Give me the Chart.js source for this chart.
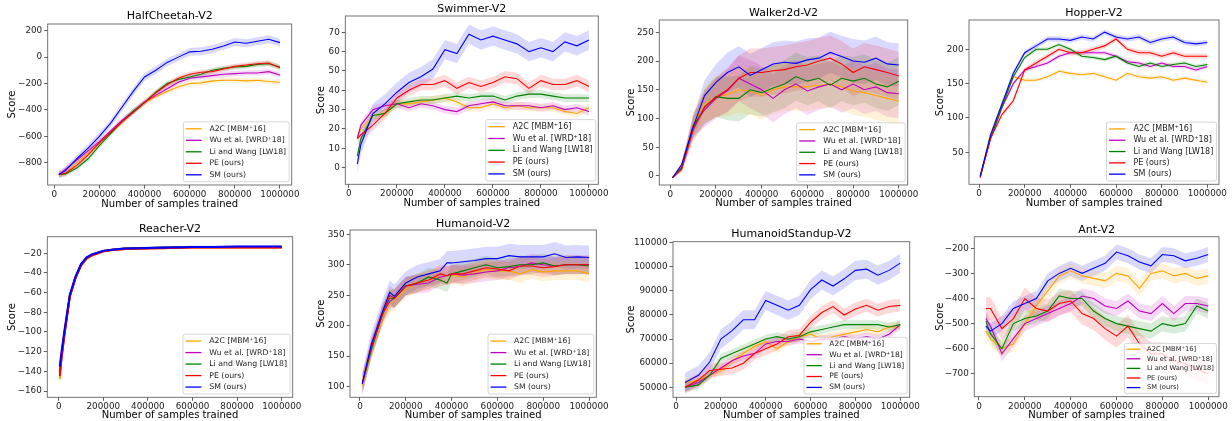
<!DOCTYPE html>
<html>
<head>
<meta charset="utf-8">
<script src="https://cdn.jsdelivr.net/npm/chart.js@4.4.0/dist/chart.umd.min.js"></script>
<style>
  body { margin: 0; background: #fff; width: 1232px; height: 421px; position: relative; overflow: hidden; }
  .panel { position: absolute; }
</style>
</head>
<body>
<script>
// ---- data ----
const names = ["A2C [MBM\u207A16]", "Wu et al. [WRD\u207A18]", "Li and Wang [LW18]", "PE (ours)", "SM (ours)"];
const xTicks = [0, 200000, 400000, 600000, 800000, 1000000];

// HalfCheetah-V2
const cheetahX = [20000, 50000, 100000, 150000, 200000, 250000, 300000, 350000, 400000, 450000, 500000, 550000, 600000, 650000, 700000, 750000, 800000, 850000, 900000, 950000, 1000000];
const cheetahA2C = [-890, -880, -800, -730, -650, -570, -490, -410, -345, -300, -260, -225, -200, -195, -180, -175, -175, -180, -175, -185, -190];
const cheetahWu = [-890, -850, -780, -710, -640, -560, -480, -410, -340, -290, -240, -190, -160, -150, -140, -130, -125, -120, -120, -110, -135];
const cheetahLi = [-890, -885, -840, -770, -670, -580, -490, -410, -345, -265, -200, -170, -150, -130, -100, -85, -75, -70, -55, -50, -75];
const cheetahPE = [-890, -880, -820, -740, -650, -570, -490, -420, -345, -270, -210, -160, -130, -115, -110, -90, -70, -60, -50, -45, -80];
const cheetahSM = [-890, -860, -770, -690, -600, -500, -380, -260, -150, -100, -40, 0, 40, 45, 60, 85, 115, 105, 120, 135, 110];
const cheetahYTicks = [-800, -600, -400, -200, 0, 200];

// Swimmer-V2
const swimX = [35000, 50000, 100000, 150000, 200000, 250000, 300000, 350000, 400000, 450000, 500000, 550000, 600000, 650000, 700000, 750000, 800000, 850000, 900000, 950000, 1000000];
const swimA2C = [16, 20, 27, 28, 33, 33, 34, 35, 36, 34, 31, 31, 33, 31, 32, 31, 31, 31, 29, 28, 31];
const swimWu = [15, 22, 30, 32, 33, 31, 33, 32, 30, 29, 32, 33, 34, 32, 32, 32, 31, 32, 30, 31, 29];
const swimLi = [6, 15, 27, 28, 33, 34, 35, 35, 36, 37, 36, 37, 37, 35, 37, 38, 38, 37, 36, 36, 36];
const swimPE = [15, 17, 22, 28, 36, 40, 43, 43, 45, 41, 44, 42, 44, 47, 46, 41, 45, 43, 43, 45, 42];
const swimSM = [2, 12, 28, 33, 39, 44, 47, 51, 61, 59, 69, 66, 68, 66, 64, 60, 62, 60, 65, 63, 66];
const swimYTicks = [0, 10, 20, 30, 40, 50, 60, 70];

// Walker2d-V2
const walkX = [10000, 50000, 100000, 150000, 200000, 250000, 300000, 350000, 400000, 450000, 500000, 550000, 600000, 650000, 700000, 750000, 800000, 850000, 900000, 950000, 1000000];
const walkA2C = [-3, 17, 90, 125, 138, 142, 150, 148, 140, 150, 155, 155, 155, 158, 160, 155, 148, 145, 140, 135, 130];
const walkWu = [-3, 15, 88, 115, 135, 148, 170, 160, 150, 135, 150, 160, 148, 155, 160, 150, 160, 150, 155, 145, 143];
const walkLi = [-3, 14, 85, 120, 138, 135, 135, 150, 145, 153, 160, 173, 165, 170, 158, 170, 165, 170, 160, 155, 165];
const walkPE = [-3, 12, 80, 120, 137, 150, 170, 180, 180, 183, 185, 190, 193, 200, 205, 195, 180, 190, 185, 180, 174];
const walkSM = [-3, 20, 85, 140, 163, 180, 190, 175, 185, 195, 198, 196, 202, 205, 215, 208, 200, 198, 205, 195, 193];
const walkSpread = [1, 6, 20, 30, 35, 38, 40, 42, 42, 42, 42, 42, 42, 40, 40, 40, 42, 42, 42, 42, 42];
const walkYTicks = [0, 50, 100, 150, 200, 250];

// Hopper-V2
const hopX = [5000, 50000, 100000, 150000, 200000, 250000, 300000, 350000, 400000, 450000, 500000, 550000, 600000, 650000, 700000, 750000, 800000, 850000, 900000, 950000, 1000000];
const hopA2C = [15, 75, 120, 160, 155, 155, 160, 168, 165, 163, 165, 160, 155, 165, 160, 158, 160, 155, 158, 155, 152];
const hopWu = [15, 70, 115, 150, 170, 175, 180, 190, 195, 195, 195, 195, 190, 182, 180, 175, 180, 175, 175, 170, 175];
const hopLi = [15, 70, 115, 160, 188, 200, 200, 207, 200, 190, 188, 185, 190, 180, 175, 180, 175, 178, 180, 175, 178];
const hopPE = [13, 70, 105, 125, 170, 180, 190, 200, 195, 195, 200, 205, 215, 200, 195, 195, 190, 195, 190, 190, 190];
const hopSM = [15, 75, 120, 165, 195, 205, 215, 215, 213, 218, 215, 225, 218, 215, 218, 210, 215, 218, 210, 208, 210];
const hopYTicks = [50, 100, 150, 200];

// Reacher-V2
const reachX = [5000, 10000, 25000, 50000, 75000, 100000, 125000, 150000, 200000, 250000, 300000, 400000, 500000, 600000, 700000, 800000, 900000, 1000000];
const reachA2C = [-148, -133, -105, -64, -46, -33, -26, -22, -18, -16.5, -15.5, -15, -14.5, -14, -14, -14, -14, -14];
const reachWu = [-140, -128, -102, -63, -45, -32, -25, -21, -17.5, -16, -15, -14.5, -14, -13.5, -13.5, -13.5, -13.5, -13.5];
const reachLi = [-142, -130, -103, -63, -45, -32, -25, -21.5, -17.5, -16, -15, -14.5, -14, -13.5, -13.5, -13.5, -13.5, -13.5];
const reachPE = [-145, -132, -104, -64, -45, -32, -25, -22, -18, -16.5, -15.5, -15, -14.5, -14, -14, -14, -14, -14];
const reachSM = [-135, -125, -100, -62, -44, -31, -24, -21, -17.5, -16, -15, -14.5, -14, -13.5, -13.5, -13, -13, -13];
const reachYTicks = [-160, -140, -120, -100, -80, -60, -40, -20];

// Humanoid-V2
const humX = [10000, 50000, 100000, 130000, 150000, 200000, 250000, 300000, 350000, 380000, 400000, 450000, 500000, 550000, 600000, 650000, 700000, 750000, 800000, 850000, 900000, 950000, 1000000];
const humA2C = [102, 160, 215, 235, 240, 260, 270, 275, 280, 282, 283, 280, 287, 292, 290, 290, 285, 292, 288, 290, 290, 290, 285];
const humWu = [105, 165, 220, 240, 245, 265, 268, 270, 280, 282, 285, 283, 285, 288, 290, 295, 297, 303, 300, 298, 300, 300, 300];
const humLi = [105, 160, 222, 245, 245, 265, 270, 280, 275, 270, 285, 290, 295, 300, 295, 297, 300, 300, 303, 298, 300, 300, 298];
const humPE = [105, 165, 220, 250, 245, 265, 270, 275, 285, 282, 285, 285, 290, 295, 293, 290, 298, 298, 295, 297, 300, 300, 300];
const humSM = [105, 170, 225, 255, 248, 270, 280, 285, 290, 303, 303, 305, 307, 310, 310, 315, 313, 313, 313, 318, 312, 313, 312];
const humYTicks = [100, 150, 200, 250, 300, 350];

// HumanoidStandup-V2
const standX = [40000, 100000, 150000, 200000, 250000, 300000, 350000, 400000, 450000, 500000, 550000, 600000, 650000, 700000, 750000, 800000, 850000, 900000, 950000, 1000000];
const standA2C = [52000, 53000, 55000, 57000, 61000, 64000, 67000, 69000, 66000, 69000, 71000, 72000, 70000, 71000, 72000, 73000, 74000, 73000, 75000, 75000];
const standWu = [50000, 52000, 55000, 58000, 61000, 63000, 64000, 68000, 69000, 69000, 70000, 69000, 70000, 70000, 71000, 70000, 71000, 70000, 72000, 76000];
const standLi = [50000, 51000, 55000, 62000, 64000, 66000, 68000, 70000, 71000, 70000, 71000, 73000, 74000, 75000, 76000, 76000, 76000, 76000, 75000, 76000];
const standPE = [50000, 53000, 57000, 57500, 58000, 60000, 64000, 66000, 68000, 71000, 71500, 77000, 81000, 83500, 80000, 82500, 84000, 82000, 83500, 84000];
const standSM = [52000, 55000, 60500, 70000, 73500, 78000, 78000, 86000, 84000, 82000, 84000, 90500, 94500, 92000, 95000, 98500, 99000, 96500, 98500, 101500];
const standYTicks = [50000, 60000, 70000, 80000, 90000, 100000, 110000];

// Ant-V2
const antX = [30000, 50000, 100000, 150000, 200000, 250000, 300000, 350000, 400000, 450000, 500000, 550000, 600000, 650000, 700000, 750000, 800000, 850000, 900000, 950000, 1000000];
const antA2C = [-530, -560, -600, -580, -500, -430, -370, -310, -290, -310, -320, -330, -300, -310, -360, -300, -290, -310, -300, -320, -310];
const antWu = [-480, -510, -620, -560, -500, -480, -460, -440, -420, -390, -400, -430, -440, -410, -450, -460, -420, -460, -420, -420, -430];
const antLi = [-490, -540, -600, -500, -480, -470, -450, -390, -400, -400, -450, -480, -500, -510, -520, -530, -500, -510, -500, -430, -450];
const antPE = [-440, -440, -520, -480, -400, -440, -450, -420, -410, -460, -480, -520, -550, -510, -580, -620, -620, -650, -660, -680, -700];
const antSM = [-510, -530, -500, -440, -420, -400, -330, -300, -280, -300, -280, -260, -215, -230, -255, -270, -225, -230, -250, -240, -225];
const antYTicks = [-700, -600, -500, -400, -300, -200];

// ---- styling / layout ----
const colors = ["#ffa500", "#bf00bf", "#008000", "#ff0000", "#0000ff"];
Chart.defaults.font.family = '"DejaVu Sans", sans-serif';
Chart.defaults.color = "#222";

const panels = [
  { title: "HalfCheetah-V2", frame: [47.7, 24, 291.7, 185], titleY: 16, scoreX: 12.5, xLabelY: 204,
    xr: [-29000, 1052000], yr: [-969, 251], yTicks: cheetahYTicks, x: cheetahX,
    series: [cheetahA2C, cheetahWu, cheetahLi, cheetahPE, cheetahSM], spread: 20, bandScale: [1, 1, 1, 1, 1.5], leg: [7.7, 11.5] },
  { title: "Swimmer-V2", frame: [345.3, 16, 598.3, 184.3], titleY: 9.3, scoreX: 321.7, xLabelY: 203.3,
    xr: [-15000, 1039000], yr: [-8.6, 78.4], yTicks: swimYTicks, x: swimX,
    series: [swimA2C, swimWu, swimLi, swimPE, swimSM], spread: 2, bandScale: [1, 1, 1, 1.5, 2.5], leg: [8, 11.8] },
  { title: "Walker2d-V2", frame: [659.3, 20, 907.7, 185], titleY: 12.7, scoreX: 631, xLabelY: 203.3,
    xr: [-48000, 1039000], yr: [-15.7, 271.4], yTicks: walkYTicks, x: walkX,
    series: [walkA2C, walkWu, walkLi, walkPE, walkSM], spread: walkSpread, bandScale: [1, 1, 1, 1, 0.9], leg: [7.9, 11.3] },
  { title: "Hopper-V2", frame: [969, 20, 1219, 184.3], titleY: 12.7, scoreX: 940, xLabelY: 203.3,
    xr: [-44000, 1051000], yr: [3.4, 242.7], yTicks: hopYTicks, x: hopX,
    series: [hopA2C, hopWu, hopLi, hopPE, hopSM], spread: 3, bandScale: [1, 1, 1, 1.3, 1.3], leg: [8, 11.3] },
  { title: "Reacher-V2", frame: [47.3, 236.7, 292.7, 397.3], titleY: 229, scoreX: 12.3, xLabelY: 415.7,
    xr: [-51000, 1049000], yr: [-166.4, -3.1], yTicks: reachYTicks, x: reachX, lw: 2,
    series: [reachA2C, reachWu, reachLi, reachPE, reachSM], spread: 1.2, bandScale: [1, 1, 1, 1, 1], leg: [7.8, 11.5] },
  { title: "Humanoid-V2", frame: [350, 230, 597.3, 397.3], titleY: 224.3, scoreX: 321.7, xLabelY: 415,
    xr: [-43500, 1032000], yr: [82.6, 357], yTicks: humYTicks, x: humX,
    series: [humA2C, humWu, humLi, humPE, humSM], spread: 15, bandScale: [1, 1, 1, 1, 1.3], leg: [7.7, 11.5] },
  { title: "HumanoidStandup-V2", frame: [673, 241.7, 909.7, 397.3], titleY: 234.3, scoreX: 631, xLabelY: 415.7,
    xr: [-13400, 1042000], yr: [45850, 110400], yTicks: standYTicks, x: standX,
    series: [standA2C, standWu, standLi, standPE, standSM], spread: 1800, bandScale: [1, 1, 1, 1.5, 2.2], leg: [7.5, 10.9] },
  { title: "Ant-V2", frame: [974.3, 236.7, 1219, 396.7], titleY: 230, scoreX: 940, xLabelY: 415.7,
    xr: [-20500, 1047000], yr: [-791, -154], yTicks: antYTicks, x: antX,
    series: [antA2C, antWu, antLi, antPE, antSM], spread: 30, bandScale: [1, 1, 1, 1.5, 1], leg: [6.7, 9.6] }
];

function fmt(v) { return v < 0 ? "\u2212" + Math.abs(v) : String(v); }
function fade(hex, a) {
  const n = parseInt(hex.slice(1), 16);
  return `rgba(${n >> 16},${(n >> 8) & 255},${n & 255},${a})`;
}

// frame around the axes and a legend box inside the lower right corner
const boxPlugin = {
  id: "box",
  afterDraw(chart, args, opts) {
    const ctx = chart.ctx, a = chart.chartArea;
    ctx.save();
    ctx.strokeStyle = "#666";
    ctx.lineWidth = 0.9;
    ctx.strokeRect(a.left, a.top, a.right - a.left, a.bottom - a.top);

    const s = opts.size, row = opts.row;
    const items = chart.data.datasets.filter(d => d.main);
    ctx.font = s + 'px "DejaVu Sans"';
    const tw = Math.max(...items.map(d => ctx.measureText(d.label).width));
    const w = 0.32 * s + 2.05 * s + 1.0 * s + tw + 0.4 * s;
    const h = items.length * row + 0.3 * s;
    const x0 = a.right - 2.5 - w, y0 = a.bottom - 3.3 - h;
    ctx.fillStyle = "rgba(255,255,255,0.8)";
    ctx.strokeStyle = "#ccc";
    ctx.lineWidth = 0.8;
    ctx.beginPath();
    ctx.roundRect(x0, y0, w, h, 2);
    ctx.fill();
    ctx.stroke();
    ctx.textBaseline = "middle";
    items.forEach((d, i) => {
      const yy = y0 + 0.15 * s + row * (i + 0.5);
      ctx.strokeStyle = d.borderColor;
      ctx.lineWidth = 1.3;
      ctx.beginPath();
      ctx.moveTo(x0 + 0.32 * s, yy);
      ctx.lineTo(x0 + 2.37 * s, yy);
      ctx.stroke();
      ctx.fillStyle = "#222";
      ctx.fillText(d.label, x0 + 3.37 * s, yy);
    });
    ctx.restore();
  }
};

function buildDatasets(p) {
  const ds = [];
  p.series.forEach((vals, s) => {
    ds.push({
      label: names[s], main: true,
      data: vals.map((v, i) => ({ x: p.x[i], y: v })),
      borderColor: colors[s], borderWidth: p.lw || 1.1,
      pointRadius: 0, fill: false, order: 5 - s
    });
  });
  p.series.forEach((vals, s) => {
    const half = i => (Array.isArray(p.spread) ? p.spread[i] : p.spread) * p.bandScale[s];
    ds.push({
      label: "", data: vals.map((v, i) => ({ x: p.x[i], y: v + half(i) })),
      borderColor: "rgba(0,0,0,0)", borderWidth: 0, pointRadius: 0,
      fill: "+1", backgroundColor: fade(colors[s], 0.15), order: 10
    });
    ds.push({
      label: "", data: vals.map((v, i) => ({ x: p.x[i], y: v - half(i) })),
      borderColor: "rgba(0,0,0,0)", borderWidth: 0, pointRadius: 0,
      fill: false, order: 10
    });
  });
  return ds;
}

panels.forEach(p => {
  const [fl, ft, fr, fb] = p.frame;
  const left = Math.floor(p.scoreX - 8), top = Math.floor(p.titleY - 8);
  const right = Math.ceil(fr + 12), bottom = Math.ceil(p.xLabelY + 7);

  const div = document.createElement("div");
  div.className = "panel";
  div.style.left = left + "px";
  div.style.top = top + "px";
  div.style.width = (right - left) + "px";
  div.style.height = (bottom - top) + "px";
  const cv = document.createElement("canvas");
  div.appendChild(cv);
  document.body.appendChild(div);

  const gridOpts = { display: true, drawOnChartArea: false, drawTicks: true, tickLength: 3.5, tickWidth: 0.8, color: "#333" };

  new Chart(cv, {
    type: "line",
    data: { datasets: buildDatasets(p) },
    plugins: [boxPlugin],
    options: {
      responsive: true,
      maintainAspectRatio: false,
      animation: false,
      events: [],
      layout: { padding: { left: 0, top: 0, bottom: 0, right: right - fr } },
      plugins: {
        legend: { display: false },
        tooltip: { enabled: false },
        title: {
          display: true, text: p.title, fullSize: false, color: "#000",
          font: { size: 11, weight: "normal", lineHeight: 1 },
          padding: { top: p.titleY - top - 5.5, bottom: ft - p.titleY - 5.5 }
        },
        box: { size: p.leg[0], row: p.leg[1] }
      },
      scales: {
        x: {
          type: "linear", min: p.xr[0], max: p.xr[1],
          afterBuildTicks: s => { s.ticks = xTicks.map(v => ({ value: v })); },
          afterFit: s => { s.height = bottom - fb; },
          ticks: { callback: fmt, font: { size: 8.8 }, color: "#222", padding: 1, maxRotation: 0, minRotation: 0, autoSkip: false },
          grid: gridOpts,
          border: { display: false },
          title: { display: true, text: "Number of samples trained", color: "#000",
                   font: { size: 10, lineHeight: 1 }, padding: { top: 0, bottom: bottom - p.xLabelY - 5 } }
        },
        y: {
          type: "linear", min: p.yr[0], max: p.yr[1],
          afterBuildTicks: s => { s.ticks = p.yTicks.map(v => ({ value: v })); },
          afterFit: s => { s.width = fl - left; },
          ticks: { callback: fmt, font: { size: 8.8 }, color: "#222", padding: 2, autoSkip: false },
          grid: gridOpts,
          border: { display: false },
          title: { display: true, text: "Score", color: "#000",
                   font: { size: 10, lineHeight: 1 }, padding: { top: p.scoreX - left - 5, bottom: 0 } }
        }
      }
    }
  });
});
</script>
</body>
</html>
